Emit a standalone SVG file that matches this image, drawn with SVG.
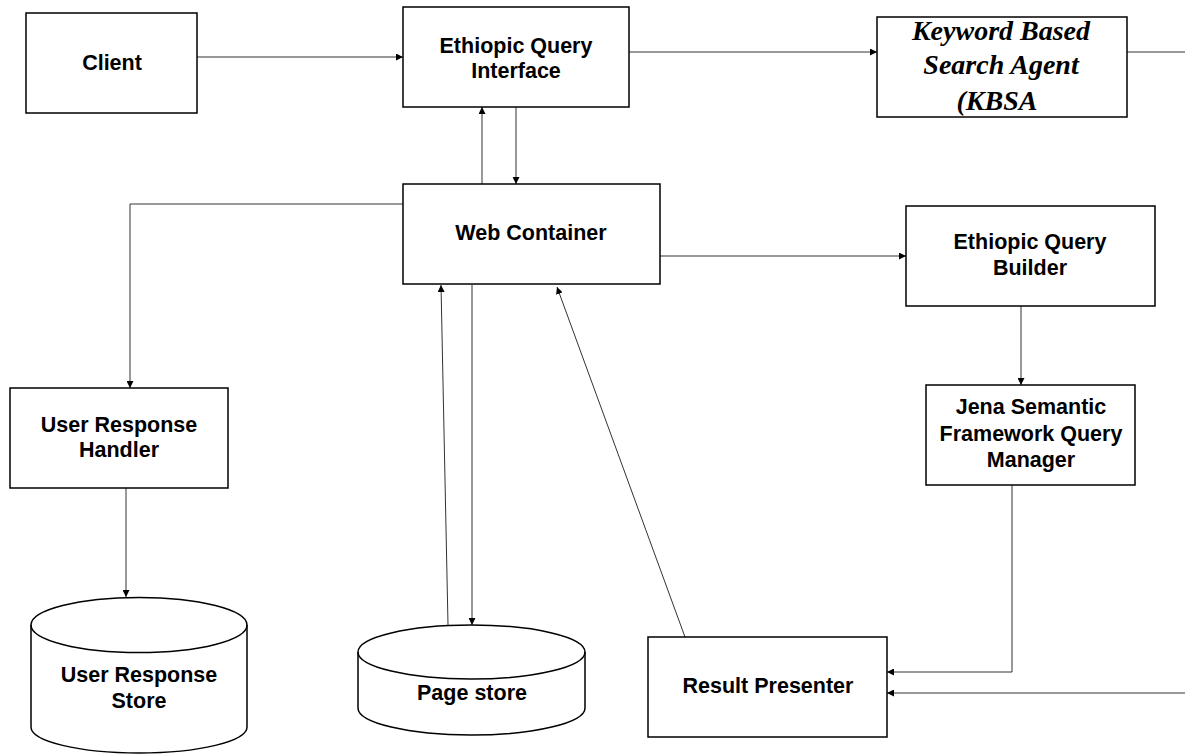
<svg xmlns="http://www.w3.org/2000/svg" width="1185" height="754" viewBox="0 0 1185 754">
  <style>
    .box { fill: #fff; stroke: #000; stroke-width: 1.5; }
    .lbl { font-family: "Liberation Sans", Arial, sans-serif; font-weight: bold; font-size: 21.5px; fill: #000; text-anchor: middle; }
    .kb { font-family: "Liberation Serif", "Times New Roman", serif; font-weight: bold; font-style: italic; font-size: 28px; fill: #000; text-anchor: middle; }
    .wire { fill: none; stroke: #333; stroke-width: 1; }
  </style>
  <defs>
    <marker id="arr" viewBox="0 0 10 10" refX="10" refY="5" markerWidth="7" markerHeight="7" markerUnits="userSpaceOnUse" orient="auto">
      <path d="M0,0 L10,5 L0,10 z" fill="#000"/>
    </marker>
  </defs>
  <rect width="1185" height="754" fill="#fff"/>

  <g id="connectors">
    <line class="wire" x1="197" y1="57" x2="403" y2="57" marker-end="url(#arr)"/>
    <line class="wire" x1="629" y1="52" x2="877" y2="52" marker-end="url(#arr)"/>
    <line class="wire" x1="1127" y1="52" x2="1185" y2="52"/>
    <line class="wire" x1="482" y1="184" x2="482" y2="107" marker-end="url(#arr)"/>
    <line class="wire" x1="516" y1="107" x2="516" y2="184" marker-end="url(#arr)"/>
    <polyline class="wire" points="403,204 130,204 130,388" marker-end="url(#arr)"/>
    <line class="wire" x1="126" y1="488" x2="126" y2="597" marker-end="url(#arr)"/>
    <line class="wire" x1="448" y1="625" x2="441" y2="285" marker-end="url(#arr)"/>
    <line class="wire" x1="472" y1="285" x2="472" y2="625" marker-end="url(#arr)"/>
    <line class="wire" x1="685" y1="637" x2="557" y2="287" marker-end="url(#arr)"/>
    <line class="wire" x1="660" y1="256" x2="906" y2="256" marker-end="url(#arr)"/>
    <line class="wire" x1="1021" y1="306" x2="1021" y2="385" marker-end="url(#arr)"/>
    <polyline class="wire" points="1012,485 1012,672 887,672" marker-end="url(#arr)"/>
    <line class="wire" x1="1185" y1="693" x2="887" y2="693" marker-end="url(#arr)"/>
  </g>

  <g id="client">
    <rect class="box" x="26" y="13" width="171" height="100"/>
    <text class="lbl" x="112" y="70">Client</text>
  </g>

  <g id="query-interface">
    <rect class="box" x="403" y="7" width="226" height="100"/>
    <text class="lbl" x="516" y="53">Ethiopic Query</text>
    <text class="lbl" x="516" y="78">Interface</text>
  </g>

  <g id="kbsa">
    <rect class="box" x="877" y="17" width="250" height="100"/>
    <text class="kb" x="1001" y="40">Keyword Based</text>
    <text class="kb" x="1001" y="74">Search Agent</text>
    <text class="kb" x="997" y="110">(KBSA</text>
  </g>

  <g id="web-container">
    <rect class="box" x="403" y="184" width="257" height="100"/>
    <text class="lbl" x="531" y="240">Web Container</text>
  </g>

  <g id="query-builder">
    <rect class="box" x="906" y="206" width="249" height="100"/>
    <text class="lbl" x="1030" y="249">Ethiopic Query</text>
    <text class="lbl" x="1030" y="275">Builder</text>
  </g>

  <g id="user-response-handler">
    <rect class="box" x="10" y="388" width="218" height="100"/>
    <text class="lbl" x="119" y="432">User Response</text>
    <text class="lbl" x="119" y="457">Handler</text>
  </g>

  <g id="jena-query-manager">
    <rect class="box" x="926" y="385" width="209" height="100"/>
    <text class="lbl" x="1031" y="414">Jena Semantic</text>
    <text class="lbl" x="1031" y="441">Framework Query</text>
    <text class="lbl" x="1031" y="467">Manager</text>
  </g>

  <g id="user-response-store">
    <path class="box" d="M31,625 A108,27.5 0 0 1 247,625 L247,727 A108,26 0 0 1 31,727 Z"/>
    <path class="box" style="fill:none" d="M31,625 A108,27.5 0 0 0 247,625"/>
    <text class="lbl" x="139" y="682">User Response</text>
    <text class="lbl" x="139" y="708">Store</text>
  </g>

  <g id="page-store">
    <path class="box" d="M358,652 A113.5,27 0 0 1 585,652 L585,708 A113.5,27 0 0 1 358,708 Z"/>
    <path class="box" style="fill:none" d="M358,652 A113.5,27 0 0 0 585,652"/>
    <text class="lbl" x="472" y="700">Page store</text>
  </g>

  <g id="result-presenter">
    <rect class="box" x="648" y="637" width="239" height="100"/>
    <text class="lbl" x="768" y="693">Result Presenter</text>
  </g>
</svg>
